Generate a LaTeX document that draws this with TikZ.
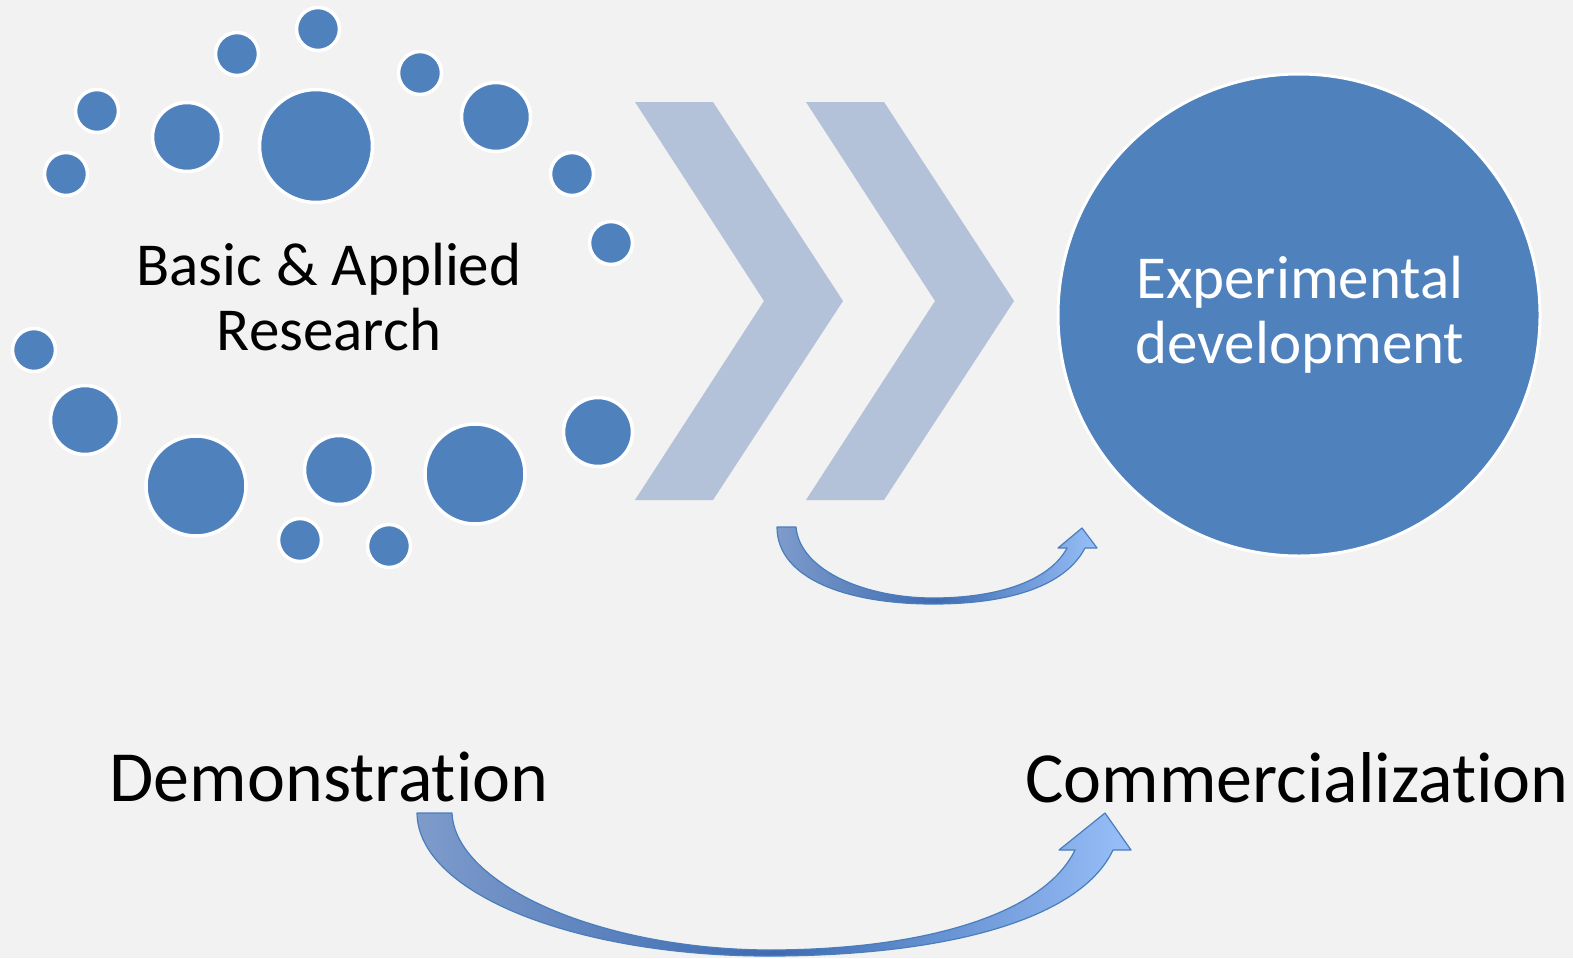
\documentclass[tikz,border=0pt]{standalone}
\usepackage{fontspec}
\setmainfont{Carlito}[Ligatures=NoCommon]
\usepackage{xcolor}
\usepackage{tikz}
\usetikzlibrary{shapes,backgrounds}

\definecolor{dotblue}{HTML}{4F81BD}
\definecolor{chevblue}{HTML}{B3C1D9}
\definecolor{paper}{HTML}{F2F2F2}
\definecolor{arrowline}{HTML}{4A7EBB}
\definecolor{arrowleft}{HTML}{7E9BCB}
\definecolor{arrowmid}{HTML}{3D6BB2}
\definecolor{arrowright}{HTML}{98BFF8}

\begin{document}
\begin{tikzpicture}[x=1pt,y=-1pt]
		\tikzstyle{dot}=[circle, draw=white, line width=3.5pt, fill=dotblue, inner sep=0pt]
		\tikzstyle{dot_s}=[dot, minimum size=43pt]
		\tikzstyle{dot_m}=[dot, minimum size=69pt]
		\tikzstyle{dot_l}=[dot, minimum size=100pt]
		\tikzstyle{dot_xl}=[dot, minimum size=113pt]
		\tikzstyle{chevron}=[fill=chevblue]
		\tikzstyle{bend_arrow}=[draw=arrowline, line width=1.2pt, line join=round, left color=arrowleft, right color=arrowright, middle color=arrowmid]
		\tikzstyle{big_text}=[inner sep=0pt, font=\fontsize{72}{84}\selectfont]
		\tikzstyle{stage_text}=[inner sep=0pt, align=center, font=\fontsize{61}{65}\selectfont]

		\fill [paper] (0,0) rectangle (1573,958);
		\useasboundingbox (0,0) rectangle (1573,958);

		% research cloud
		\begin{scope}
			\node [dot_s] (d1) at (318,29) {};
			\node [dot_s] (d2) at (237,54) {};
			\node [dot_s] (d3) at (420,73) {};
			\node [dot_s] (d4) at (97,111) {};
			\node [dot_m] (d5) at (187,137) {};
			\node [dot_xl] (d6) at (316,146) {};
			\node [dot_m] (d7) at (496,117) {};
			\node [dot_s] (d8) at (66,174) {};
			\node [dot_s] (d9) at (572,174) {};
			\node [dot_s] (d10) at (611,243) {};
			\node [dot_s] (d11) at (34,350) {};
			\node [dot_m] (d12) at (85,420) {};
			\node [dot_l] (d13) at (196,486) {};
			\node [dot_m] (d14) at (339,470) {};
			\node [dot_l] (d15) at (475,474) {};
			\node [dot_m] (d16) at (598,432) {};
			\node [dot_s] (d17) at (300,540) {};
			\node [dot_s] (d18) at (389,546) {};

			\node [stage_text, anchor=base] (research) at (329,350) {Basic \& Applied\\Research};
		\end{scope}

		% chevrons
		\fill [chevron] (635,102) -- (713,102) -- (843,301) -- (713,500) -- (635,500) -- (764,301) -- cycle;
		\fill [chevron] (806,102) -- (884,102) -- (1014,301) -- (884,500) -- (806,500) -- (935,301) -- cycle;

		% development
		\node [circle, draw=white, line width=3pt, fill=dotblue, minimum size=482pt, inner sep=0pt] (devel) at (1299,315) {};
		\node [stage_text, text=white, anchor=base] (devel_text) at (1300,363) {Experimental\\development};

		% small bent arrow
		\draw [bend_arrow] (777,527) -- (796,527) .. controls (800,572) and (868,598) .. (933,598)
			.. controls (1000,598) and (1050,580) .. (1067,548) -- (1058,548) -- (1082,528) -- (1097,548) -- (1085,548)
			.. controls (1064,588) and (1005,604) .. (933,604) .. controls (850,604) and (777,580) .. (777,527) -- cycle;

		% bottom row
		\node [big_text, anchor=base] (demo) at (329,801) {Demonstration};
		\node [big_text, anchor=base] (comm) at (1297,802) {Commercialization};

		\draw [bend_arrow] (417,813) -- (452,813) .. controls (455,885) and (600,949) .. (768,950)
			.. controls (930,950) and (1045,912) .. (1075,850) -- (1059,850) -- (1105,813) -- (1131,850) -- (1113,850)
			.. controls (1080,920) and (945,956) .. (768,956) .. controls (580,956) and (418,895) .. (417,813) -- cycle;
	\end{tikzpicture}
\end{document}
